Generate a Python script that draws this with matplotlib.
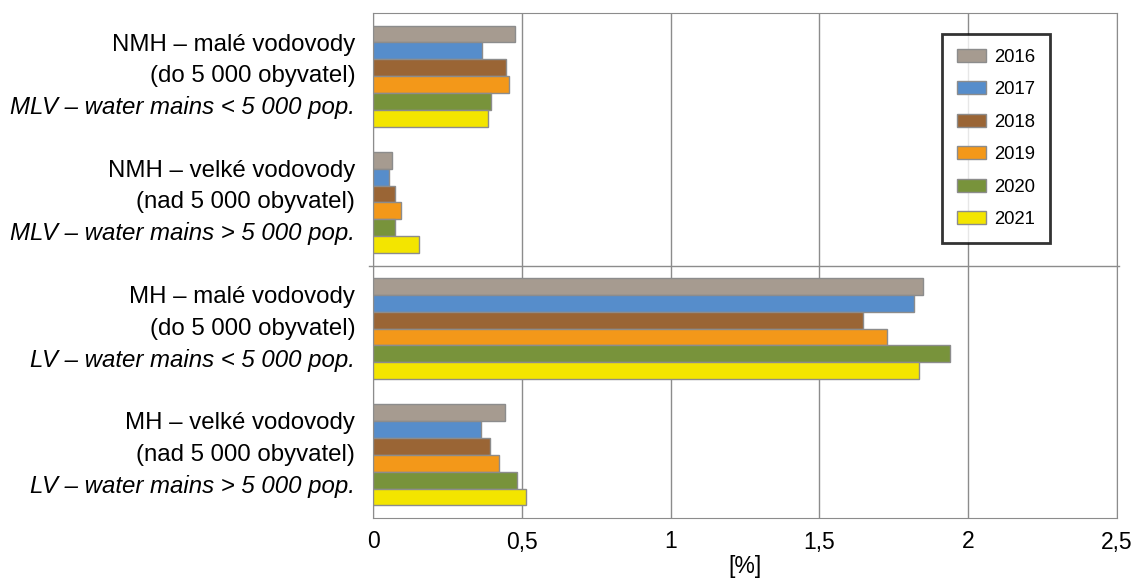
import matplotlib
matplotlib.use("Agg")
import matplotlib.pyplot as plt
import matplotlib.transforms as mtransforms
import numpy as np

plt.rcParams['font.family'] = ['Liberation Sans', 'DejaVu Sans']

# kategorie (shora dolu)
categories_cz = ["NMH – malé vodovody", "NMH – velké vodovody",
                 "MH – malé vodovody", "MH – velké vodovody"]
categories_pop = ["(do 5 000 obyvatel)", "(nad 5 000 obyvatel)",
                  "(do 5 000 obyvatel)", "(nad 5 000 obyvatel)"]
categories_en = ["MLV – water mains < 5 000 pop.", "MLV – water mains > 5 000 pop.",
                 "LV – water mains < 5 000 pop.", "LV – water mains > 5 000 pop."]

years = ["2016", "2017", "2018", "2019", "2020", "2021"]
colors = ["#a69b90", "#568dcb", "#9a6535", "#f39819", "#78933b", "#f3e500"]

# hodnoty [%] po letech, poradi kategorii jako vyse
v2016 = [0.477, 0.063, 1.847, 0.445]
v2017 = [0.366, 0.053, 1.817, 0.363]
v2018 = [0.447, 0.074, 1.646, 0.394]
v2019 = [0.456, 0.093, 1.726, 0.424]
v2020 = [0.396, 0.074, 1.938, 0.485]
v2021 = [0.385, 0.154, 1.836, 0.515]
values = [v2016, v2017, v2018, v2019, v2020, v2021]

fig = plt.figure(figsize=(11.37, 5.79), dpi=100)
ax = fig.add_axes([373 / 1137, 1 - 518 / 579, 744 / 1137, 505 / 579])

n = len(years)
h = 0.8 / n
y = np.arange(len(categories_cz))
for i, (yr, vals) in enumerate(zip(years, values)):
    pos = y - 0.4 + h * (i + 0.5)
    ax.barh(pos, vals, height=h, color=colors[i], edgecolor="#8c8c8c",
            linewidth=1, label=yr, zorder=3)

ax.set_xlim(0, 2.5)
ax.set_ylim(len(categories_cz) - 0.5, -0.5)
ax.set_xticks([0, 0.5, 1, 1.5, 2, 2.5])
ax.set_xticklabels(["0", "0,5", "1", "1,5", "2", "2,5"], fontsize=16.5)
ax.tick_params(axis="x", length=0, pad=9)
ax.set_yticks([])
ax.grid(axis="x", color="#8c8c8c", linewidth=1, zorder=0)
for s in ["left", "bottom", "top", "right"]:
    ax.spines[s].set_color("#8c8c8c")
ax.axhline(1.5, color="#8c8c8c", linewidth=1, xmin=-0.005, xmax=1.003, clip_on=False)
ax.set_xlabel("[%]", fontsize=16.5, labelpad=1)

trans = mtransforms.blended_transform_factory(ax.transAxes, ax.transData)
for k in range(len(categories_cz)):
    ax.text(-0.024, k - 0.25, categories_cz[k], transform=trans, ha="right",
            va="center", fontsize=17.3)
    ax.text(-0.024, k, categories_pop[k], transform=trans, ha="right",
            va="center", fontsize=17.3)
    ax.text(-0.024, k + 0.25, categories_en[k], transform=trans, ha="right",
            va="center", fontsize=17.3, style="italic")

leg = ax.legend(loc="upper left", bbox_to_anchor=(569 / 744, 1 - 21 / 505),
                fontsize=13.3, frameon=True, fancybox=False, shadow=False,
                labelspacing=0.84, handlelength=1.6, handleheight=0.7,
                handletextpad=0.4, borderpad=0.8, borderaxespad=0)
leg.get_frame().set_edgecolor("black")
leg.get_frame().set_linewidth(2)

fig.savefig("out.png", dpi=100)
